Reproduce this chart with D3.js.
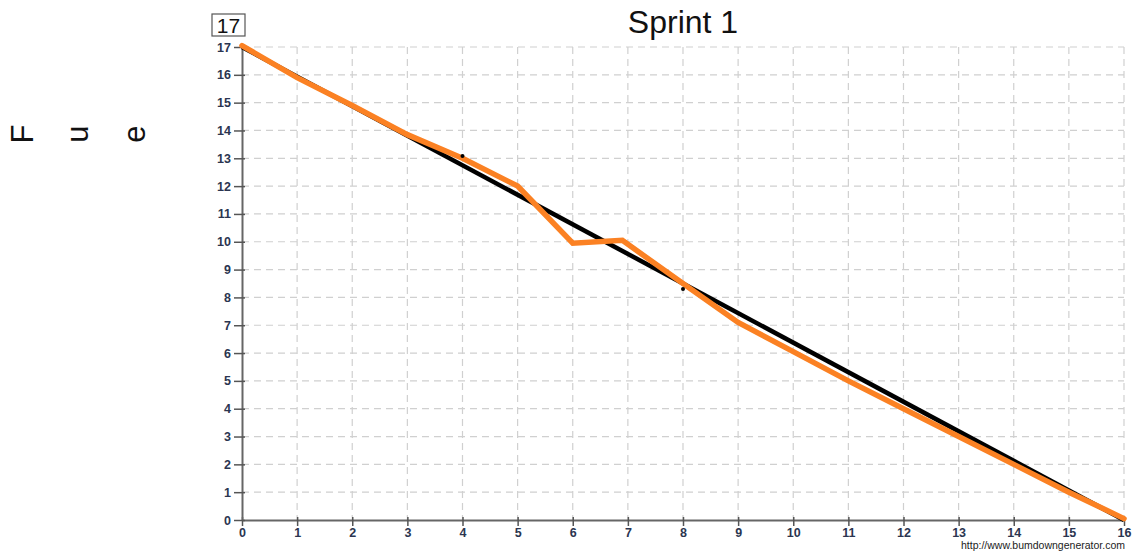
<!DOCTYPE html>
<html><head><meta charset="utf-8">
<script src="https://cdn.jsdelivr.net/npm/d3@7"></script>
<style>body{margin:0;background:#fff}svg{display:block}</style>
</head><body>
<svg id="c" width="1133" height="553"></svg>
<script>
const title = "Sprint 1";
const boxLabel = "17";
const yLabelChars = ["F", "u", "e"];
const footer = "http://www.bumdowngenerator.com";
const xTicks = d3.range(0, 17);
const yTicks = d3.range(0, 18);
const idealDays = [0, 16];
const idealValues = [17, 0];
const actualDays = [0, 1, 2, 3, 4, 5, 6, 6.9, 8, 9, 10, 11, 12, 13, 14, 15, 16];
const actualValues = [17.05, 15.9, 14.9, 13.85, 13.0, 12.0, 9.95, 10.05, 8.5, 7.1, 6.05, 5.0, 4.0, 3.0, 2.0, 1.0, 0.05];
const markDays = [4, 8];
const markValues = [13.08, 8.3];

const svg = d3.select("#c");
const L = 242, R = 1124, T = 47, B = 520;
const x = d3.scaleLinear().domain([0, 16]).range([L, R]);
const y = d3.scaleLinear().domain([0, 17]).range([B, T]);
const font = "Liberation Sans, Arial, sans-serif";

// grid
const g = svg.append("g");
g.selectAll("line.v").data(xTicks.filter(d => d > 0)).join("line")
  .attr("x1", d => x(d)).attr("x2", d => x(d)).attr("y1", T).attr("y2", B)
  .attr("stroke", "#d0d0d0").attr("stroke-width", 1.2).attr("stroke-dasharray", "7,5");
g.selectAll("line.h").data(yTicks.filter(d => d > 0)).join("line")
  .attr("x1", L).attr("x2", R).attr("y1", d => y(d)).attr("y2", d => y(d))
  .attr("stroke", "#d0d0d0").attr("stroke-width", 1.2).attr("stroke-dasharray", "7,5");

// axes
const xa = svg.append("g").attr("transform", `translate(0,${B})`)
  .call(d3.axisBottom(x).tickValues(xTicks).tickFormat(d3.format("d")).tickSize(6).tickSizeOuter(0));
const ya = svg.append("g").attr("transform", `translate(${L},0)`)
  .call(d3.axisLeft(y).tickValues(yTicks).tickFormat(d3.format("d")).tickSize(6).tickSizeOuter(0));
[xa, ya].forEach(a => {
  a.select(".domain").attr("stroke", "#666").attr("stroke-width", 2);
  a.selectAll(".tick line").attr("stroke", "#555").attr("stroke-width", 1.5);
  a.selectAll(".tick text").attr("fill", "#2b3550").attr("font-family", font)
    .attr("font-size", 12.5).attr("font-weight", "bold");
});
xa.selectAll(".tick line").attr("y1", -3);
ya.selectAll(".tick line").attr("x1", 3).attr("x2", -8);
ya.selectAll(".tick text").attr("x", -11);
xa.selectAll(".tick text").attr("y", 8);

// ideal line
const line = d3.line().x(d => x(d[0])).y(d => y(d[1]));
svg.append("path").datum(idealDays.map((d, i) => [d, idealValues[i]]))
  .attr("d", line).attr("fill", "none").attr("stroke", "#000").attr("stroke-width", 4.5);
// actual line
svg.append("path").datum(actualDays.map((d, i) => [d, actualValues[i]]))
  .attr("d", line).attr("fill", "none").attr("stroke", "#fb8123").attr("stroke-width", 5.5)
  .attr("stroke-linejoin", "miter").attr("stroke-linecap", "round");
// marks
svg.selectAll("circle.m").data(markDays.map((d, i) => [d, markValues[i]])).join("circle")
  .attr("cx", d => x(d[0])).attr("cy", d => y(d[1])).attr("r", 2).attr("fill", "#000");

// title
svg.append("text").attr("x", 683).attr("y", 33).attr("text-anchor", "middle")
  .attr("font-family", font).attr("font-size", 32).attr("fill", "#111").text(title);
// box label
svg.append("rect").attr("x", 212).attr("y", 14).attr("width", 33).attr("height", 22)
  .attr("fill", "#fff").attr("stroke", "#555").attr("stroke-width", 1.2);
svg.append("text").attr("x", 228.5).attr("y", 33).attr("text-anchor", "middle")
  .attr("font-family", font).attr("font-size", 21).attr("fill", "#111").text(boxLabel);
// rotated y letters
const letterX = [33, 88, 145];
svg.selectAll("text.yl").data(yLabelChars).join("text")
  .attr("transform", (d, i) => `translate(${letterX[i]},134) rotate(-90)`)
  .attr("text-anchor", "middle")
  .attr("font-family", font).attr("font-size", 31).attr("fill", "#111").text(d => d);
// footer
svg.append("text").attr("x", 1125).attr("y", 549).attr("text-anchor", "end")
  .attr("font-family", font).attr("font-size", 10.5).attr("fill", "#222").text(footer);
</script>
</body></html>
